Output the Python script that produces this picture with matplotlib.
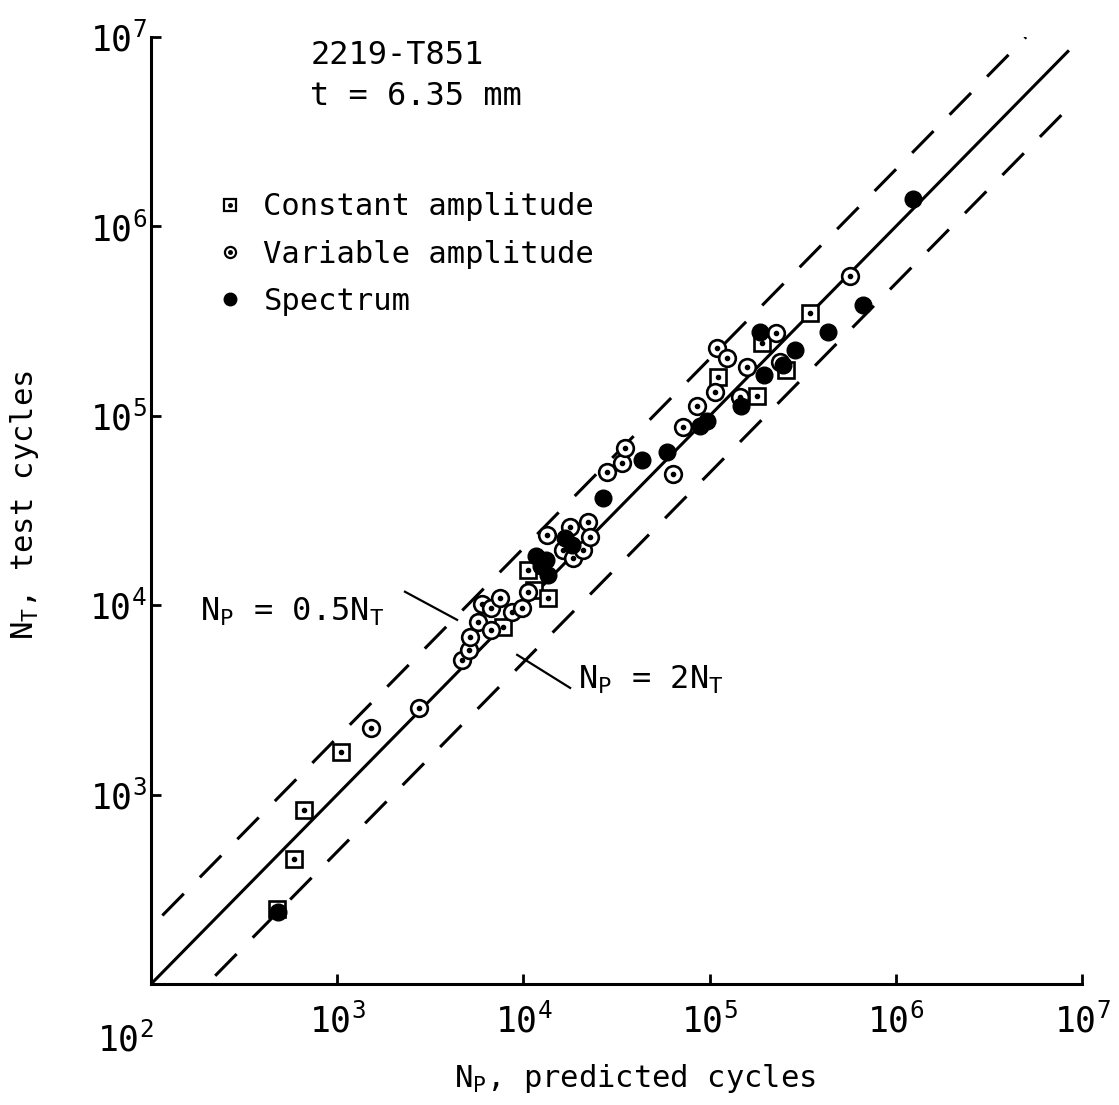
import math
import matplotlib
matplotlib.use('Agg')
import matplotlib.pyplot as plt
from matplotlib.lines import Line2D
from matplotlib.ticker import NullLocator, FixedLocator, FuncFormatter

# ---------------- data ----------------
const_np = [475, 586, 663, 1048, 7770, 10600, 11400, 13600, 1.11e5, 1.80e5, 1.91e5, 2.57e5, 3.46e5]
const_nt = [249, 457, 830, 1680, 7690, 15400, 12100, 10900, 1.61e5, 1.28e5, 2.43e5, 1.75e5, 3.51e5]

var_np = [1520, 2750, 4680, 5100, 5170, 5700, 6000, 6700, 7490, 6700, 8690, 9820, 10600,
          13400, 16300, 17800, 18500, 20900, 22200, 22800, 28100, 33900, 35100, 63500,
          71900, 85500, 1.07e5, 1.10e5, 1.24e5, 1.59e5, 1.46e5, 2.27e5, 2.39e5, 5.68e5]
var_nt = [2250, 2870, 5150, 5810, 6810, 8170, 10200, 9690, 10900, 7410, 9230, 9690, 11800,
          23500, 19600, 25900, 17800, 19600, 27600, 23000, 50700, 56500, 67800, 49400,
          87500, 1.12e5, 1.34e5, 2.29e5, 2.03e5, 1.80e5, 1.25e5, 2.75e5, 1.93e5, 5.50e5]

spec_np = [480, 11700, 13200, 12400, 13600, 16700, 18200, 26800, 43300, 59000, 88700, 96800,
           1.47e5, 1.87e5, 1.96e5, 2.48e5, 2.88e5, 4.32e5, 6.67e5, 1.24e6]
spec_nt = [240, 18200, 17400, 16100, 14500, 22700, 20800, 36900, 58600, 64600, 88700, 94200,
           1.13e5, 2.78e5, 1.65e5, 1.86e5, 2.23e5, 2.78e5, 3.86e5, 1.40e6]

# reference lines N_T = ratio * N_P and their drawn extents in N_P
line_ratios = [1.0, 2.0, 0.5]
line_np_start = [100, 115, 221]
line_np_end = [8.5e6, 5.0e6, 8.6e6]

# annotation leader lines (N_P, N_T) end points
leader1_np = [2310, 4400]
leader1_nt = [11780, 8370]
leader2_np = [9250, 17800]
leader2_nt = [5470, 3660]

tick_values = [1e2, 1e3, 1e4, 1e5, 1e6, 1e7]
legend_labels = ['Constant amplitude', 'Variable amplitude', 'Spectrum']

# ---------------- figure ----------------
plt.rcParams['font.family'] = ['DejaVu Sans Mono']
plt.rcParams['mathtext.fontset'] = 'custom'
plt.rcParams['mathtext.rm'] = 'DejaVu Sans Mono'
plt.rcParams['mathtext.it'] = 'DejaVu Sans Mono'

fig = plt.figure(figsize=(11.19, 11.05), dpi=100)
ax = fig.add_axes([0.135, 0.1095, 0.832, 0.857])
ax.set_xscale('log')
ax.set_yscale('log')
ax.set_xlim(1e2, 1e7)
ax.set_ylim(1e2, 1e7)

for r, s, e in zip(line_ratios, line_np_start, line_np_end):
    xs = [s, e]
    ys = [s * r, e * r]
    if r == 1.0:
        ax.plot(xs, ys, color='black', lw=2.2, solid_capstyle='butt', zorder=2)
    else:
        ax.plot(xs, ys, color='black', lw=2.2, ls=(0, (10, 7.5)), zorder=2)

ms = 12
ax.plot(const_np, const_nt, ls='none', marker='s', ms=11, mfc='white', mec='black', mew=1.9, zorder=3)
ax.plot(const_np, const_nt, ls='none', marker='o', ms=3, mfc='black', mec='black', zorder=3.1)
ax.plot(var_np, var_nt, ls='none', marker='o', ms=ms, mfc='white', mec='black', mew=1.9, zorder=4)
ax.plot(var_np, var_nt, ls='none', marker='o', ms=3, mfc='black', mec='black', zorder=4.1)
ax.plot(spec_np, spec_nt, ls='none', marker='o', ms=ms, mfc='black', mec='black', zorder=5)

# axes styling
for side in ['top', 'right']:
    ax.spines[side].set_visible(False)
for side in ['left', 'bottom']:
    ax.spines[side].set_linewidth(2.2)
ax.xaxis.set_major_locator(FixedLocator(tick_values))
ax.yaxis.set_major_locator(FixedLocator(tick_values[1:]))
ax.xaxis.set_minor_locator(NullLocator())
ax.yaxis.set_minor_locator(NullLocator())


def dec_fmt(v, pos):
    e = int(round(math.log10(v)))
    if e == 2:
        return ''
    return r'$\mathdefault{10^{%d}}$' % e


ax.xaxis.set_major_formatter(FuncFormatter(dec_fmt))
ax.yaxis.set_major_formatter(FuncFormatter(dec_fmt))
ax.tick_params(axis='both', direction='in', length=7, width=2, labelsize=25)
ax.tick_params(axis='x', pad=14)
ax.tick_params(axis='y', pad=3)
# corner label 10^2 (sits lower-left of the origin)
ax.text(-0.028, -0.06, r'$\mathdefault{10^{2}}$', transform=ax.transAxes, fontsize=25,
        ha='center', va='center')

ax.set_xlabel(r'N$_\mathdefault{P}$, predicted cycles', fontsize=22)
ax.xaxis.set_label_coords(0.52, -0.082)
ax.set_ylabel(r'N$_\mathdefault{T}$, test cycles', fontsize=22)
ax.yaxis.set_label_coords(-0.118, 0.506)

# header text
ax.text(0.171, 0.981, '2219-T851', transform=ax.transAxes, fontsize=23, va='center', ha='left')
ax.text(0.171, 0.937, 't = 6.35 mm', transform=ax.transAxes, fontsize=23, va='center', ha='left')

# legend
h_const = (Line2D([], [], ls='none', marker='s', ms=8, mfc='white', mec='black', mew=1.6),
           Line2D([], [], ls='none', marker='o', ms=2.5, mfc='black', mec='black'))
h_var = (Line2D([], [], ls='none', marker='o', ms=8, mfc='white', mec='black', mew=1.6),
         Line2D([], [], ls='none', marker='o', ms=2.5, mfc='black', mec='black'))
h_spec = Line2D([], [], ls='none', marker='o', ms=9, mfc='black', mec='black')
ax.legend([h_const, h_var, h_spec], legend_labels, loc='upper left',
          bbox_to_anchor=(0.055, 0.849), frameon=False, fontsize=22,
          handlelength=1.0, handletextpad=0.6, labelspacing=0.6, borderaxespad=0)

# annotations
ax.plot(leader1_np, leader1_nt, color='black', lw=1.6, zorder=2)
ax.plot(leader2_np, leader2_nt, color='black', lw=1.6, zorder=2)
ax.text(183, 9230, r'N$_\mathdefault{P}$ = 0.5N$_\mathdefault{T}$', fontsize=23, va='center', ha='left')
ax.text(19600, 4040, r'N$_\mathdefault{P}$ = 2N$_\mathdefault{T}$', fontsize=23, va='center', ha='left')

fig.savefig('out.png', dpi=100)
